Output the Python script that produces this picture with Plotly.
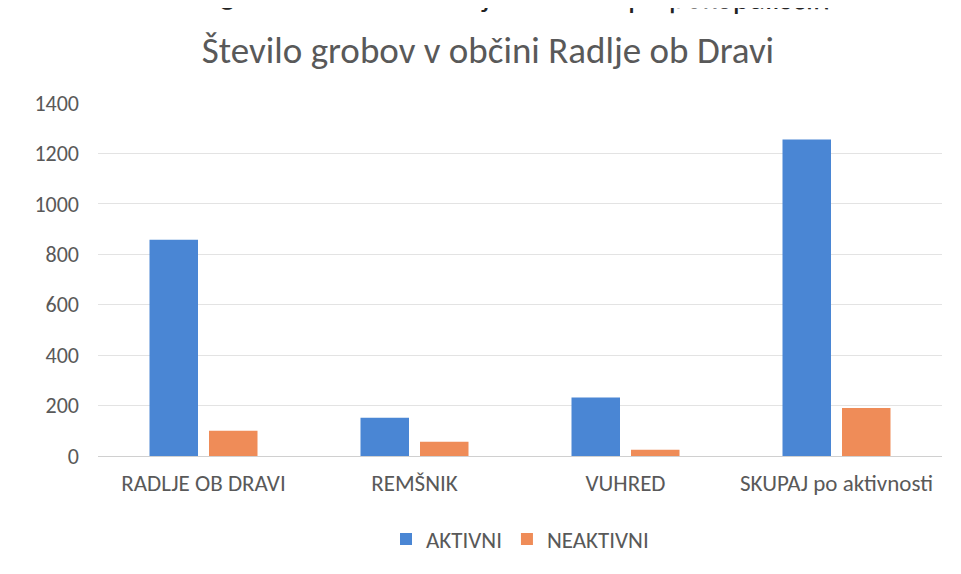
import plotly.graph_objects as go

categories = ["RADLJE OB DRAVI", "REMŠNIK", "VUHRED", "SKUPAJ po aktivnosti"]
aktivni = [858, 152, 232, 1255]
neaktivni = [100, 57, 25, 190]
series_names = ["AKTIVNI", "NEAKTIVNI"]
y_ticks = [0, 200, 400, 600, 800, 1000, 1200, 1400]

FONT = "Carlito, 'Liberation Sans Narrow', 'Noto Sans', sans-serif"
GREY = "#595959"

fig = go.Figure()
fig.add_trace(go.Bar(x=categories, y=aktivni, name=series_names[0],
                     marker=dict(color="#4a86d4", line=dict(width=0))))
fig.add_trace(go.Bar(x=categories, y=neaktivni, name=series_names[1],
                     marker=dict(color="#ef8c58", line=dict(width=0))))

W, H = 961, 574
# page has an 8px body offset; these margins place the plot area at the reference pixels
L, R, T, B = 90, 27, 95, 126
plot_h = H - T - B
plot_w = W - L - R
bottom_fig = H - B  # figure-pixel y of the plot bottom

fig.update_layout(
    width=W, height=H,
    margin=dict(l=L, r=R, t=T, b=B, pad=0),
    paper_bgcolor="white", plot_bgcolor="white",
    barmode="group", bargap=0.436, bargroupgap=0.185,
    font=dict(family=FONT, color=GREY, size=22),
    title=dict(text="Število grobov v občini Radlje ob Dravi",
               x=(488 - 8 - L) / plot_w, xref="paper", xanchor="center",
               y=1 - 42 / H, yanchor="middle",
               font=dict(family=FONT, size=37, color=GREY)),
    showlegend=True,
    legend=dict(orientation="h", x=0.5, xanchor="center",
                y=(bottom_fig - 531) / plot_h, yanchor="middle",
                font=dict(family=FONT, size=23, color=GREY),
                itemsizing="constant", traceorder="normal", itemwidth=30),
    xaxis=dict(showgrid=False, showline=True, linecolor="#d0d0d0", linewidth=1,
               ticks="", tickfont=dict(family=FONT, size=23, color=GREY),
               ticklabelstandoff=6),
    yaxis=dict(range=[0, 1400], tickvals=y_ticks, showgrid=True,
               gridcolor="#e3e3e3", gridwidth=1, zeroline=False,
               showline=False, ticks="",
               tickfont=dict(family=FONT, size=22, color=GREY),
               ticklabelstandoff=18),
)

fig.add_annotation(text="Graf 1: Število grobov v občini Radlje ob Dravi po pokopališčih",
                   xref="paper", yref="paper",
                   x=(824 - L) / plot_w, y=(bottom_fig - 13) / plot_h,
                   xanchor="right", yanchor="bottom", showarrow=False,
                   textangle=0.5,
                   font=dict(family=FONT, size=32, color="#222222"))

fig.write_html("out.html")
